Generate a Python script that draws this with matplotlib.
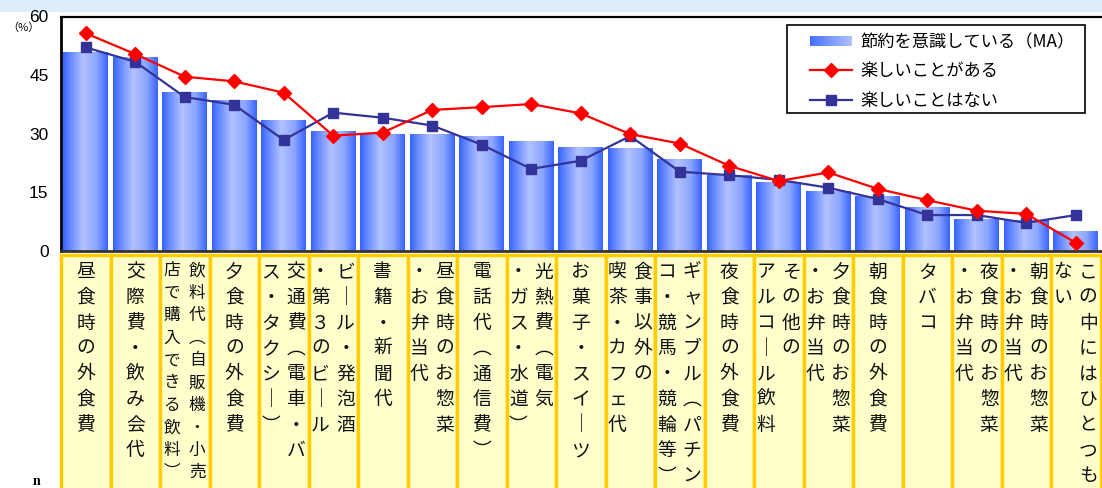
import matplotlib
matplotlib.use("Agg")
import matplotlib.pyplot as plt
import numpy as np
from matplotlib.colors import LinearSegmentedColormap
from matplotlib.patches import Rectangle
from matplotlib.legend_handler import HandlerBase
from matplotlib.lines import Line2D
from matplotlib.transforms import blended_transform_factory

plt.rcParams['font.family'] = ['Noto Sans CJK JP', 'DejaVu Sans']

# ---------------- data ----------------
categories = [
    "昼食時の外食費",
    "交際費・飲み会代",
    "飲料代（自販機・小売\n店で購入できる飲料）",
    "夕食時の外食費",
    "交通費（電車・バ\nス・タクシー）",
    "ビール・発泡酒\n・第３のビール",
    "書籍・新聞代",
    "昼食時のお惣菜\n・お弁当代",
    "電話代（通信費）",
    "光熱費（電気\n・ガス・水道）",
    "お菓子・スイーツ",
    "食事以外の\n喫茶・カフェ代",
    "ギャンブル（パチン\nコ・競馬・競輪等）",
    "夜食時の外食費",
    "その他の\nアルコール飲料",
    "夕食時のお惣菜\n・お弁当代",
    "朝食時の外食費",
    "タバコ",
    "夜食時のお惣菜\n・お弁当代",
    "朝食時のお惣菜\n・お弁当代",
    "この中にはひとつも\nない",
]
ma_values = [50.8, 49.4, 40.5, 38.4, 33.5, 30.7, 29.9, 29.9, 29.4, 27.9, 26.6,
             26.3, 23.3, 19.3, 17.6, 15.1, 14.0, 11.2, 8.1, 7.7, 5.1]
fun_yes = [55.7, 50.4, 44.6, 43.4, 40.5, 29.5, 30.3, 36.1, 36.8, 37.6, 35.2,
           29.9, 27.5, 21.8, 17.9, 20.1, 15.9, 13.0, 10.3, 9.5, 2.1]
fun_no = [52.1, 48.4, 39.4, 37.4, 28.4, 35.4, 34.1, 32.1, 27.2, 21.0, 23.1,
          29.4, 20.3, 19.4, 18.2, 16.2, 13.3, 9.2, 9.2, 7.2, 9.2]
series_names = ["節約を意識している（MA）", "楽しいことがある", "楽しいことはない"]
yticks = [0, 15, 30, 45, 60]

# ---------------- figure ----------------
W, H = 1102, 488
fig = plt.figure(figsize=(W / 100, H / 100), dpi=100)

def fy(px):  # pixel from top -> figure fraction
    return 1 - px / H

# top light-blue band
fig.add_artist(Rectangle((0, fy(12)), 1, 12 / H, transform=fig.transFigure,
                         facecolor="#DDEDF9", edgecolor="none", zorder=0))

ax_left, ax_right = 61 / W, 1100.5 / W
ax = fig.add_axes([ax_left, fy(251), ax_right - ax_left, (251 - 16.5) / H])

grad_cmap = LinearSegmentedColormap.from_list(
    "bargrad",
    [(0.0, "#3562FF"), (0.12, "#5A80FF"), (0.45, "#B3C3FF"),
     (0.75, "#8BA5FF"), (1.0, "#3864FF")])

x = np.arange(len(categories))
bars = ax.bar(x, ma_values, width=0.9, color="none", edgecolor="none", zorder=2)
grad = np.linspace(0, 1, 256).reshape(1, -1)
for r in bars:
    x0, w, h = r.get_x(), r.get_width(), r.get_height()
    ax.imshow(grad, extent=[x0, x0 + w, 0, h], aspect="auto", cmap=grad_cmap,
              interpolation="bilinear", zorder=2)

ax.plot(x, fun_yes, color="#FF0000", lw=1.6, marker="D", markersize=7.5,
        markerfacecolor="#FF0000", markeredgecolor="#FF0000", zorder=4)
ax.plot(x, fun_no, color="#333399", lw=1.6, marker="s", markersize=7.5,
        markerfacecolor="#333399", markeredgecolor="#333399", zorder=3)

ax.set_xlim(-0.5, len(categories) - 0.5)
ax.set_ylim(0, 60)
ax.set_aspect("auto")
ax.set_xticks([])
ax.set_yticks(yticks)
ax.set_yticklabels([str(v) for v in yticks], fontfamily="Liberation Sans",
                   fontsize=12.5)
ax.tick_params(axis="y", direction="in", length=4, width=1.2, pad=9,
               color="#222222")
ax.spines["left"].set_linewidth(2.0)
ax.spines["left"].set_color("#000000")
ax.spines["top"].set_linewidth(1.6)
ax.spines["top"].set_color("#000000")
ax.spines["bottom"].set_linewidth(2.0)
ax.spines["bottom"].set_color("#333333")
ax.spines["right"].set_visible(False)
ax.patch.set_alpha(0)

fig.text(7 / W, fy(28), "（%）", fontsize=8, va="center", ha="left")

# ---------------- legend ----------------
class GradHandler(HandlerBase):
    def create_artists(self, legend, orig_handle, xdescent, ydescent, width,
                       height, fontsize, trans):
        n = 40
        arts = []
        for k in range(n):
            arts.append(Rectangle((-xdescent + width * k / n, -ydescent + height * 0.05),
                                  width / n * 1.1, height * 0.9,
                                  facecolor=grad_cmap(0.05 + 0.4 * k / n),
                                  edgecolor="none", transform=trans))
        return arts

# legend frame drawn at the reference position
fig.add_artist(Rectangle((787 / W, fy(112.5)), (1085 - 787) / W, (112.5 - 25) / H,
                         transform=fig.transFigure, facecolor="white",
                         edgecolor="#000000", lw=1.2, zorder=6))

bar_handle = Rectangle((0, 0), 1, 1)
h_yes = Line2D([], [], color="#FF0000", lw=1.6, marker="D", markersize=7.5)
h_no = Line2D([], [], color="#333399", lw=1.6, marker="s", markersize=7.5)
leg = fig.legend([bar_handle, h_yes, h_no], series_names,
                 handler_map={Rectangle: GradHandler()},
                 loc="upper left", bbox_to_anchor=(810 / W, fy(33)),
                 bbox_transform=fig.transFigure, borderaxespad=0, borderpad=0,
                 fontsize=12.4, frameon=False, handlelength=2.45,
                 handletextpad=0.45, labelspacing=0.66)
leg.set_zorder(7)

# ---------------- category label cells ----------------
bt = blended_transform_factory(ax.transData, fig.transFigure)
cell_top = 255.5
for i, lab in enumerate(categories):
    fig.add_artist(Rectangle((i - 0.5, fy(H + 20)), 1.0, (H + 20 - cell_top) / H,
                             transform=bt, facecolor="#FFFFCC",
                             edgecolor="#FFCC00", lw=2.5, zorder=1))

vert_map = {"（": "\uFE35", "）": "\uFE36", "ー": "｜"}
for i, lab in enumerate(categories):
    cols = lab.split("\n")
    small = len(cols[0]) >= 10
    fs = 12 if small else 13.5
    pitch = 22.4 if small else 25.5
    y0 = 271 if small else 272
    if len(cols) == 1:
        offs = [0.0]
    else:
        offs = [0.25, -0.26]
    for c, col in enumerate(cols):
        for k, ch in enumerate(col):
            ch = vert_map.get(ch, ch)
            fig.text(i + offs[c], fy(y0 + k * pitch), ch, transform=bt,
                     ha="center", va="center", fontsize=fs, color="#111111",
                     zorder=5)

fig.text(33 / W, fy(485), "n", fontsize=10, va="baseline", ha="left",
         fontfamily="Liberation Serif", fontweight="bold")

fig.savefig("out.png", dpi=100)
